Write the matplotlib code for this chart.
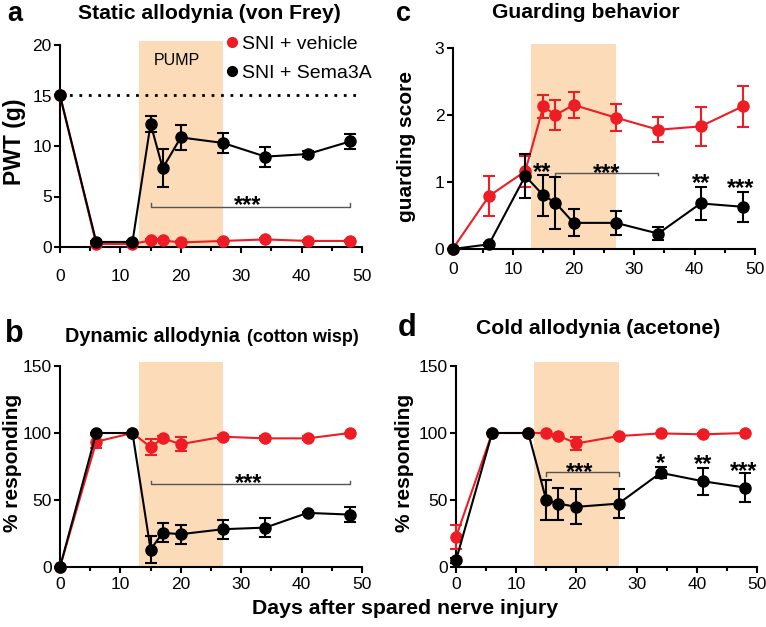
import matplotlib
matplotlib.use('Agg')
import matplotlib.pyplot as plt
from matplotlib.lines import Line2D

plt.rcParams['font.family'] = ['Liberation Sans', 'DejaVu Sans']

W, H = 766, 627
RED = '#ee1c24'
BLACK = '#000000'
SHADE = '#fcdcb8'

days = [0, 6, 12, 15, 17, 20, 27, 34, 41, 48]
pump_window = [13, 27]

# Panel a: static allodynia (von Frey), PWT (g)
pwt_vehicle = [15, 0.3, 0.3, 0.65, 0.65, 0.45, 0.6, 0.75, 0.6, 0.6]
pwt_vehicle_err = [0, 0, 0, 0.1, 0.1, 0.1, 0.1, 0.1, 0.1, 0.1]
pwt_sema = [15, 0.5, 0.5, 12.2, 7.8, 10.85, 10.3, 8.95, 9.2, 10.45]
pwt_sema_err = [0, 0.1, 0.1, 0.8, 1.9, 1.2, 1.0, 1.0, 0.3, 0.75]
baseline_x = [0, 49]
baseline_y = 15

# Panel b: dynamic allodynia (cotton wisp), % responding
dyn_vehicle = [0, 93.5, 100, 89.5, 96, 91.7, 97.2, 96, 96, 100]
dyn_vehicle_err = [0, 5, 0, 6, 1.5, 5, 1.5, 1.5, 1.5, 0]
dyn_sema = [0, 100, 100, 13, 25.5, 24.5, 28.2, 29.4, 40.4, 39.1]
dyn_sema_err = [0, 0, 0, 10, 7, 7, 7, 7, 1, 5.5]

# Panel c: guarding score
guard_vehicle = [0, 0.79, 1.16, 2.13, 2.0, 2.15, 1.96, 1.78, 1.83, 2.13]
guard_vehicle_err = [0, 0.3, 0.23, 0.17, 0.22, 0.2, 0.2, 0.19, 0.29, 0.31]
guard_sema = [0, 0.07, 1.09, 0.8, 0.69, 0.39, 0.39, 0.23, 0.68, 0.63]
guard_sema_err = [0, 0.02, 0.33, 0.3, 0.39, 0.2, 0.18, 0.1, 0.24, 0.22]

# Panel d: cold allodynia (acetone), % responding
cold_vehicle = [22.4, 100, 100, 100, 98, 92.2, 97.7, 99.7, 99, 100]
cold_vehicle_err = [9, 0, 0, 0, 1, 5, 1, 0.5, 1, 0]
cold_sema = [5, 100, 100, 49.8, 47.3, 44.9, 47.3, 70.3, 64, 59.3]
cold_sema_err = [2, 0, 0, 15, 12, 13, 11, 4, 10, 11]

# significance brackets: (x0, x1, y, tick)
bracket_a = (15, 48, 4.0, 0.4)
bracket_b = (15, 48, 61.7, 2.5)
bracket_c = (17, 34, 1.14, -0.04)
bracket_d = (15, 27, 70.6, -2.5)
stars_a = [('***', 31.1, 4.85)]
stars_b = [('***', 31.2, 68)]
stars_c = [('**', 14.8, 1.25), ('***', 25.4, 1.23), ('**', 41, 1.09), ('***', 47.7, 1.02)]
stars_d = [('***', 20.5, 76.1), ('*', 34, 83), ('**', 41, 81.7), ('***', 47.8, 76.4)]

fig = plt.figure(figsize=(W / 100, H / 100), dpi=100)


def fx(px):
    return px / W


def fy(py):
    return 1 - py / H


def make_ax(l, t, r, b):
    return fig.add_axes([fx(l), fy(b), fx(r) - fx(l), (b - t) / H])


def style(ax, yticks, ylim, xpad):
    ax.set_xlim(0, 50)
    ax.set_ylim(*ylim)
    ax.set_xticks([0, 10, 20, 30, 40, 50])
    ax.set_xticks([5, 15, 25, 35, 45], minor=True)
    ax.set_yticks(yticks)
    for s in ['top', 'right']:
        ax.spines[s].set_visible(False)
    for s in ['left', 'bottom']:
        ax.spines[s].set_linewidth(1.5)
    ax.tick_params(axis='both', which='major', direction='out', length=4.5, width=1.5,
                   labelsize=12.5, pad=1.5)
    ax.tick_params(axis='x', which='major', pad=xpad)
    ax.tick_params(axis='x', which='minor', direction='out', length=3, width=1.5)
    ax.axvspan(pump_window[0], pump_window[1], ymin=0, ymax=1.018, color=SHADE,
               lw=0, zorder=0, clip_on=False)


def series(ax, y, e, color, z):
    cont = ax.errorbar(days, y, yerr=e, fmt='-o', color=color, ms=8, lw=1.5,
                       capsize=4, elinewidth=1.5, capthick=1.5, zorder=z)
    for art in cont.lines:
        if art is None:
            continue
        if isinstance(art, tuple):
            for a in art:
                a.set_clip_on(False)
        else:
            art.set_clip_on(False)
    return cont


def bracket(ax, br, stars):
    x0, x1, y, t = br
    ax.plot([x0, x0, x1, x1], [y + t, y, y, y + t], color='#555555', lw=1, zorder=2)
    for s, x, yy in stars:
        ax.annotate(s, xy=(x, yy), xytext=(0, -5.3), textcoords='offset points',
                    ha='center', va='center', fontsize=17, fontweight='bold')


# ---- Panel a
ax_a = make_ax(60, 45, 362, 247)
style(ax_a, [0, 5, 10, 15, 20], (0, 20), 11)
ax_a.plot(baseline_x, [baseline_y, baseline_y], color='black', lw=2,
          linestyle=(0, (1, 2.4)), zorder=1)
series(ax_a, pwt_vehicle, pwt_vehicle_err, RED, 3)
series(ax_a, pwt_sema, pwt_sema_err, BLACK, 4)
bracket(ax_a, bracket_a, stars_a)
ax_a.text(19.3, 18.5, 'PUMP', ha='center', va='center', fontsize=11.5)
handles = [Line2D([], [], marker='o', ls='none', color=RED, ms=7),
           Line2D([], [], marker='o', ls='none', color=BLACK, ms=7)]
ax_a.legend(handles, ['SNI + vehicle', 'SNI + Sema3A'], loc='upper left',
            bbox_to_anchor=(fx(224), fy(35)), bbox_transform=fig.transFigure,
            frameon=False, fontsize=14, handlelength=0.8, handletextpad=0.15,
            borderpad=0, borderaxespad=0, labelspacing=0.62)

# ---- Panel c
ax_c = make_ax(452.7, 48, 755, 249)
style(ax_c, [0, 1, 2, 3], (0, 3), 5)
series(ax_c, guard_vehicle, guard_vehicle_err, RED, 3)
series(ax_c, guard_sema, guard_sema_err, BLACK, 4)
bracket(ax_c, bracket_c, stars_c)

# ---- Panel b
ax_b = make_ax(60, 366, 362, 567)
style(ax_b, [0, 50, 100, 150], (0, 150), 2.5)
series(ax_b, dyn_vehicle, dyn_vehicle_err, RED, 3)
series(ax_b, dyn_sema, dyn_sema_err, BLACK, 4)
bracket(ax_b, bracket_b, stars_b)

# ---- Panel d
ax_d = make_ax(456, 366, 757, 567)
style(ax_d, [0, 50, 100, 150], (0, 150), 3)
series(ax_d, cold_vehicle, cold_vehicle_err, RED, 3)
series(ax_d, cold_sema, cold_sema_err, BLACK, 4)
bracket(ax_d, bracket_d, stars_d)

# ---- Texts
fig.text(fx(7), fy(21), 'a', fontsize=19.5, fontweight='bold', va='baseline', ha='left')
fig.text(fx(5), fy(342), 'b', fontsize=22, fontweight='bold', va='baseline', ha='left')
fig.text(fx(396), fy(21), 'c', fontsize=19.5, fontweight='bold', va='baseline', ha='left')
fig.text(fx(398), fy(336), 'd', fontsize=22, fontweight='bold', va='baseline', ha='left')

fig.text(fx(209), fy(19), 'Static allodynia (von Frey)', fontsize=15.2,
         fontweight='bold', ha='center', va='baseline')
fig.text(fx(586), fy(18), 'Guarding behavior', fontsize=15.2,
         fontweight='bold', ha='center', va='baseline')
fig.text(fx(65), fy(342), 'Dynamic allodynia', fontsize=14.3,
         fontweight='bold', ha='left', va='baseline')
fig.text(fx(247), fy(342), '(cotton wisp)', fontsize=13,
         fontweight='bold', ha='left', va='baseline')
fig.text(fx(598), fy(334), 'Cold allodynia (acetone)', fontsize=15.2,
         fontweight='bold', ha='center', va='baseline')

fig.text(fx(14), fy(142), 'PWT (g)', fontsize=16.5, fontweight='bold',
         rotation=90, ha='center', va='center')
fig.text(fx(406), fy(147), 'guarding score', fontsize=15, fontweight='bold',
         rotation=90, ha='center', va='center')
fig.text(fx(13), fy(463), '% responding', fontsize=15, fontweight='bold',
         rotation=90, ha='center', va='center')
fig.text(fx(405), fy(463), '% responding', fontsize=15, fontweight='bold',
         rotation=90, ha='center', va='center')

fig.text(fx(405), fy(608), 'Days after spared nerve injury', fontsize=15.3,
         fontweight='bold', ha='center', va='center')

fig.savefig('out.png', dpi=100)
